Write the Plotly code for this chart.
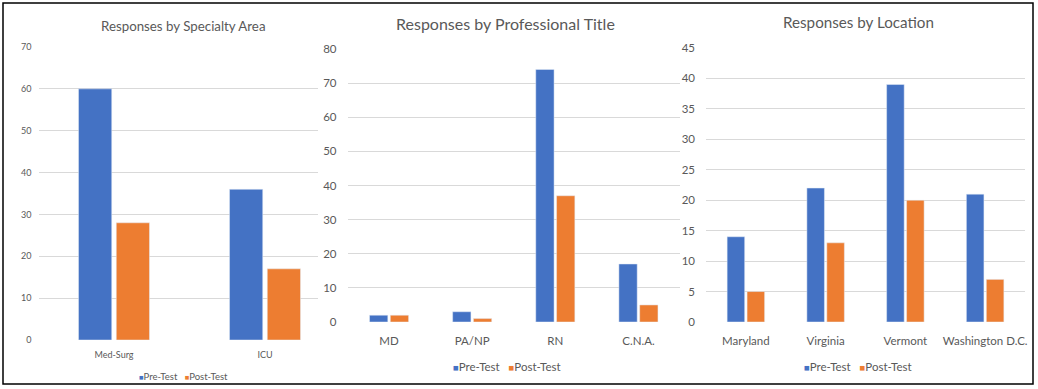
import plotly.graph_objects as go

W, H = 1038, 389

# ---- data ----
specialty_cats = ["Med-Surg", "ICU"]
specialty_pre = [60, 36]
specialty_post = [28, 17]

title_cats = ["MD", "PA/NP", "RN", "C.N.A."]
title_pre = [2, 3, 74, 17]
title_post = [2, 1, 37, 5]

location_cats = ["Maryland", "Virginia", "Vermont", "Washington D.C."]
location_pre = [14, 22, 39, 21]
location_post = [5, 13, 20, 7]

series_names = ["Pre-Test", "Post-Test"]
panel_titles = ["Responses by Specialty Area", "Responses by Professional Title", "Responses by Location"]

BLUE = "#4472C4"
ORANGE = "#ED7D31"
GRID = "#D9D9D9"
TXT = "#595959"
FONT = "Lato"


def px(x):
    return x / W


def py(y):
    return (H - y) / H


fig = go.Figure()

panels = [
    (specialty_cats, specialty_pre, specialty_post, "x", "y"),
    (title_cats, title_pre, title_post, "x2", "y2"),
    (location_cats, location_pre, location_post, "x3", "y3"),
]
for cats, pre, post, xa, ya in panels:
    fig.add_trace(go.Bar(x=cats, y=pre, name=series_names[0], marker_color=BLUE,
                         xaxis=xa, yaxis=ya, showlegend=False))
    fig.add_trace(go.Bar(x=cats, y=post, name=series_names[1], marker_color=ORANGE,
                         xaxis=xa, yaxis=ya, showlegend=False))

common_y = dict(showgrid=True, gridcolor=GRID, gridwidth=1, zeroline=False, automargin=False,
                showline=False, ticks="", tickfont=dict(family=FONT, color=TXT))
common_x = dict(showgrid=False, zeroline=False, showline=False, ticks="", automargin=False,
                tickfont=dict(family=FONT, color=TXT))

fig.update_layout(
    width=W, height=H,
    margin=dict(l=0, r=0, t=0, b=0, autoexpand=False),
    paper_bgcolor="white", plot_bgcolor="white",
    barmode="group", bargap=0.5, bargroupgap=0.12,
    font=dict(family=FONT, color=TXT),
    xaxis=dict(common_x, domain=[px(38.5), px(318)], anchor="y",
               range=[-0.5, -0.5 + (318 - 38.5) / 151.0],
               tickfont=dict(family=FONT, color=TXT, size=9), ticklabelstandoff=8),
    yaxis=dict(common_y, domain=[py(340), py(47)], anchor="x", range=[0, 70], dtick=10,
               tickfont=dict(family=FONT, color=TXT, size=9), ticklabelstandoff=6),
    xaxis2=dict(common_x, domain=[px(347.5), px(680)], anchor="y2",
                tickfont=dict(family=FONT, color=TXT, size=11.5), ticklabelstandoff=10),
    yaxis2=dict(common_y, domain=[py(322), py(49)], anchor="x2", range=[0, 80], dtick=10,
                tickfont=dict(family=FONT, color=TXT, size=11.5), ticklabelstandoff=10),
    xaxis3=dict(common_x, domain=[px(706), px(1025)], anchor="y3",
                tickfont=dict(family=FONT, color=TXT, size=11.5), ticklabelstandoff=10),
    yaxis3=dict(common_y, domain=[py(322), py(48)], anchor="x3", range=[0, 45], dtick=5,
                tickfont=dict(family=FONT, color=TXT, size=11.5), ticklabelstandoff=10),
)

# titles
title_pos = [(183, 26, 13.3), (505, 23, 16), (858, 22, 15.2)]
for t, (cx, cy, fs) in zip(panel_titles, title_pos):
    fig.add_annotation(x=px(cx), y=py(cy), xref="paper", yref="paper", text=t,
                       showarrow=False, xanchor="center", yanchor="middle",
                       font=dict(family=FONT, size=fs, color=TXT))

# legends
legend_pos = [(183, 376, 9.5), (507, 366, 11.5), (858, 366, 11.5)]
for cx, cy, fs in legend_pos:
    txt = (f'<span style="color:{BLUE};font-size:{fs-2}px">■</span>{series_names[0]}'
           f'&nbsp;&nbsp;&nbsp;<span style="color:{ORANGE};font-size:{fs-2}px">■</span>{series_names[1]}')
    fig.add_annotation(x=px(cx), y=py(cy), xref="paper", yref="paper", text=txt,
                       showarrow=False, xanchor="center", yanchor="middle",
                       font=dict(family=FONT, size=fs, color=TXT))

# outer border
fig.add_shape(type="rect", xref="paper", yref="paper",
              x0=px(3), x1=px(1033), y0=py(384), y1=py(3),
              line=dict(color="black", width=1.5), fillcolor="rgba(0,0,0,0)")

fig.write_html("out.html",
               config={"displayModeBar": False},
               post_script="document.body.style.margin='0';document.body.style.overflow='hidden';")
